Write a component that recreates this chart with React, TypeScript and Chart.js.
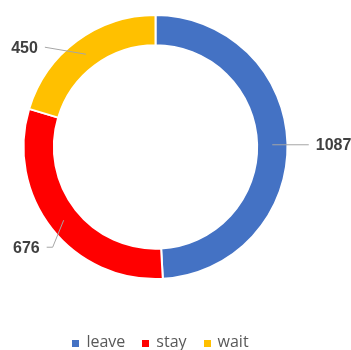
import React, { useEffect, useRef } from "react";
import { Chart, registerables } from "chart.js";

Chart.register(...registerables);

const categories = ["leave", "stay", "wait"];
const values = [1087, 676, 450];
const colors = ["#4472C4", "#FF0000", "#FFC000"];
// leader line geometry relative to each slice's mid-ring point: [elbowDx, elbowDy, horizontalTail]
const leaderOffsets = [
  [36.5, 0, 0],
  [-11, 27, -6],
  [-41, -7, 0],
];

const labelPlugin = {
  id: "leaderLabels",
  afterDatasetsDraw(chart: any) {
    const ctx = chart.ctx;
    const meta = chart.getDatasetMeta(0);
    ctx.save();
    meta.data.forEach((arc: any, i: number) => {
      const { x, y, startAngle, endAngle, innerRadius, outerRadius } = arc.getProps(
        ["x", "y", "startAngle", "endAngle", "innerRadius", "outerRadius"],
        true
      );
      const a = (startAngle + endAngle) / 2;
      const r = (innerRadius + outerRadius) / 2;
      const mx = x + Math.cos(a) * r;
      const my = y + Math.sin(a) * r;
      const [dx, dy, tail] = leaderOffsets[i];
      const ex = mx + dx;
      const ey = my + dy;
      const tx = ex + tail;
      ctx.strokeStyle = "#A6A6A6";
      ctx.lineWidth = 1;
      ctx.beginPath();
      ctx.moveTo(mx, my + 1);
      ctx.lineTo(ex, ey + 1);
      if (tail !== 0) ctx.lineTo(tx, ey + 1);
      ctx.stroke();
      const right = dx + tail > 0;
      ctx.fillStyle = "#404040";
      ctx.font = "bold 16px 'Liberation Sans', Arial, sans-serif";
      ctx.textBaseline = "middle";
      ctx.textAlign = right ? "left" : "right";
      ctx.fillText(String(values[i]), right ? tx + 7 : tx - 7, ey + 2);
    });
    ctx.restore();
  },
};

const legendPlugin = {
  id: "bottomLegend",
  afterDraw(chart: any) {
    const ctx = chart.ctx;
    const labels: string[] = chart.data.labels;
    const bg: string[] = chart.data.datasets[0].backgroundColor;
    const box = 7;
    const textGap = 7;
    const itemGap = 17;
    ctx.save();
    ctx.font = "16px 'Open Sans', sans-serif";
    ctx.textBaseline = "middle";
    ctx.textAlign = "left";
    const widths = labels.map((l) => box + textGap + ctx.measureText(l).width);
    const total = widths.reduce((s, w) => s + w, 0) + itemGap * (labels.length - 1);
    const cx = (chart.chartArea.left + chart.chartArea.right) / 2 + 5;
    const cy = chart.height - 7;
    let x = cx - total / 2;
    labels.forEach((l, i) => {
      ctx.fillStyle = bg[i];
      ctx.fillRect(Math.round(x), Math.round(cy - box / 2), box, box);
      ctx.fillStyle = "#595959";
      ctx.fillText(l, x + box + textGap, cy - 1);
      x += widths[i] + itemGap;
    });
    ctx.restore();
  },
};

export default function App() {
  const ref = useRef<HTMLCanvasElement>(null);
  useEffect(() => {
    if (!ref.current) return;
    const chart = new Chart(ref.current, {
      type: "doughnut",
      data: {
        labels: categories,
        datasets: [
          {
            data: values,
            backgroundColor: colors,
            borderColor: "#FFFFFF",
            borderWidth: 2,
          },
        ],
      },
      options: {
        animation: false,
        responsive: false,
        cutout: "77%",
        layout: { padding: { top: 14, left: 22, right: 62, bottom: 70 } },
        plugins: {
          title: { display: false },
          tooltip: { enabled: false },
          legend: { display: false },
        },
      },
      plugins: [labelPlugin, legendPlugin],
    });
    return () => chart.destroy();
  }, []);
  return (
    <div style={{ position: "absolute", left: 0, top: 0, width: 351, height: 350, background: "#fff" }}>
      <canvas ref={ref} width={351} height={350} />
    </div>
  );
}
